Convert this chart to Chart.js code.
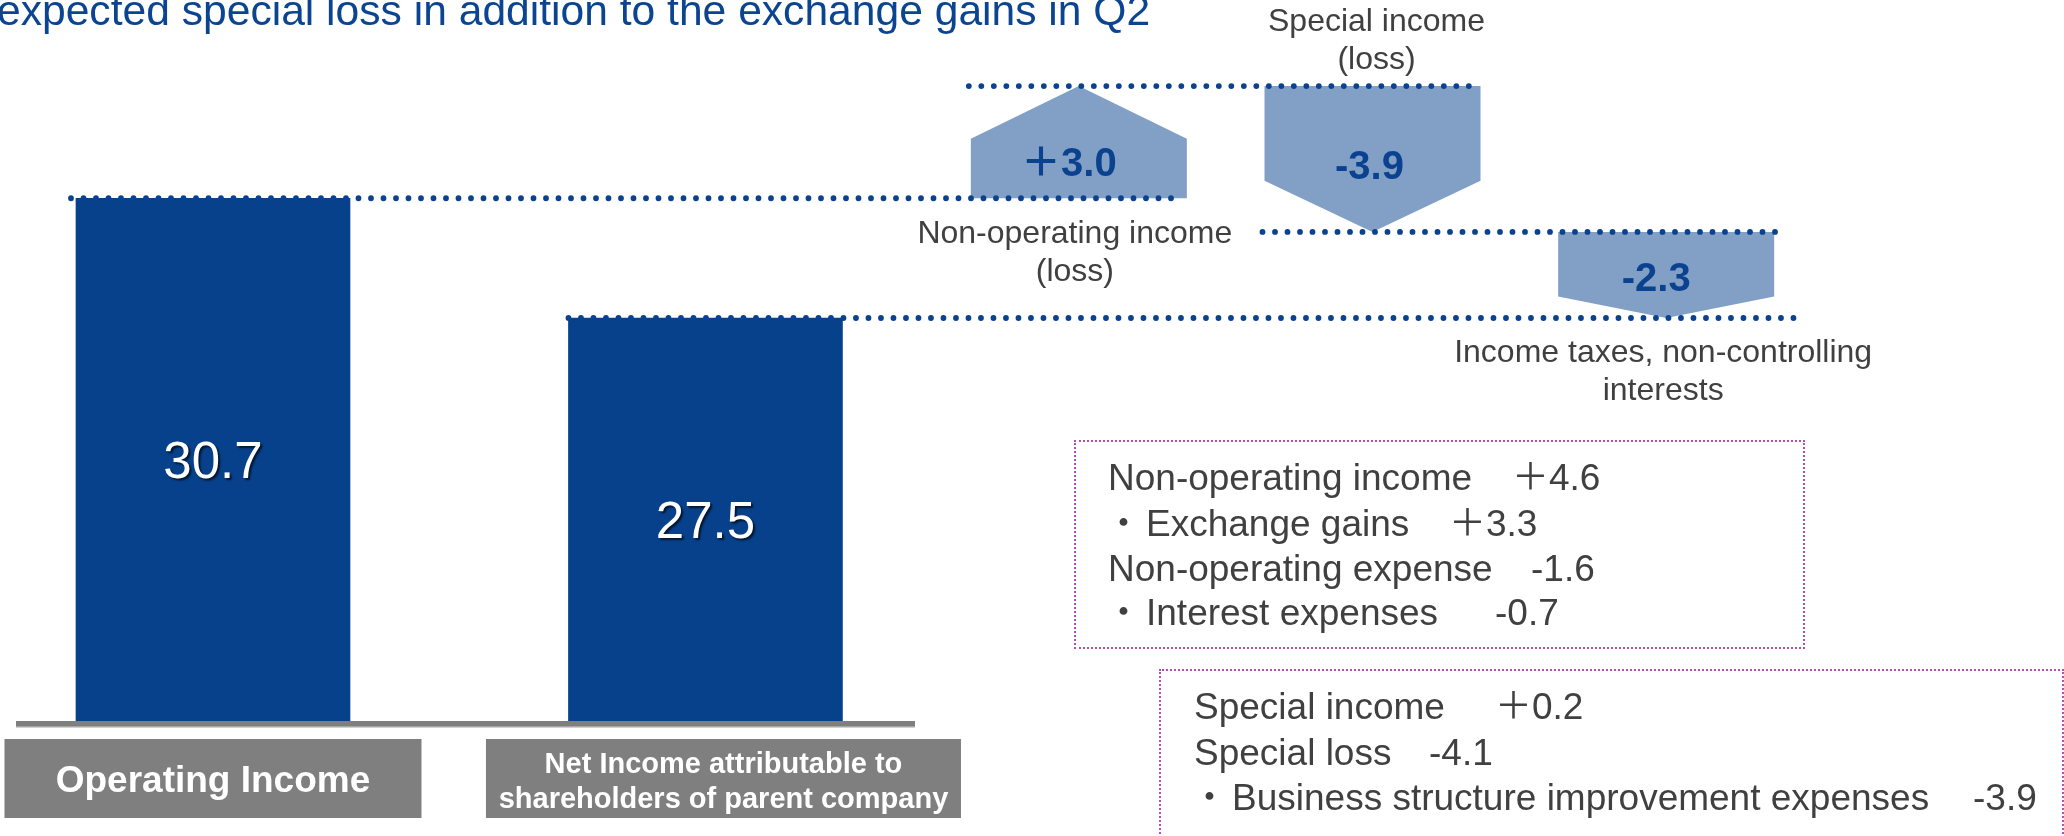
<!DOCTYPE html>
<html>
<head>
<meta charset="utf-8">
<title>Operating income to net income bridge</title>
<script src="https://cdn.jsdelivr.net/npm/chart.js@4.4.1/dist/chart.umd.min.js"></script>
<style>
  html, body { margin: 0; padding: 0; background: #ffffff; }
  #stage { position: relative; width: 2064px; height: 836px; overflow: hidden; background: #ffffff; }
  #chart { position: absolute; left: 0; top: 0; }
  .txt { position: absolute; font-family: "Liberation Sans", Arial, "Noto Sans CJK JP", sans-serif; white-space: pre; }
  #title { left: -3px; top: -11.5px; font-size: 42.6px; line-height: 43px; color: #0b4592; }
  .box { position: absolute; box-sizing: border-box; border: 2px dotted #b050b0; }
  .note { font-size: 37px; line-height: 37px; color: #404040; }
</style>
</head>
<body>
<div id="stage">
  <canvas id="chart" width="2064" height="836"></canvas>
  <div id="title" class="txt"></div>
  <div class="box" style="left:1074px;top:440px;width:731px;height:209px;"></div>
  <div class="box" style="left:1159px;top:669px;width:905px;height:220px;"></div>
  <div id="notes"></div>
</div>
<script>
// ---------------- data ----------------
const titleText = 'expected special loss in addition to the exchange gains in Q2';
const mainCategories = [['Operating Income'], ['Net Income attributable to', 'shareholders of parent company']];
const mainValues = [30.7, 27.5];
const stepCategories = [['Non-operating income', '(loss)'], ['Special income', '(loss)'], ['Income taxes, non-controlling', 'interests']];
const stepDeltas = [3.0, -3.9, -2.3];
const nonOpItems = ['Non-operating income', '・Exchange gains', 'Non-operating expense', '・Interest expenses'];
const nonOpValues = [4.6, 3.3, -1.6, -0.7];
const specialItems = ['Special income', 'Special loss', '・Business structure improvement expenses'];
const specialValues = [0.2, -4.1, -3.9];

// ---------------- derived ----------------
const levels = [mainValues[0]];
stepDeltas.forEach(d => levels.push(Math.round((levels[levels.length - 1] + d) * 10) / 10));
const stepRanges = stepDeltas.map((d, i) => [levels[i], levels[i + 1]]);
const fmt = v => (v > 0 ? '＋' : '') + v.toFixed(1);

// ---------------- styles ----------------
const FONT = '"Liberation Sans", Arial, "Noto Sans CJK JP", sans-serif';
const S = {
  main: '#07418b', step: '#829fc6', stepText: '#0a4290', dot: '#0a4290',
  gray: '#7f7f7f', dark: '#404040',
  headFrac: [0.47, 0.35, 0.25],
  valueFrac: [0.33, 0.54, 0.52],
  valueDx: [-10, -3, -10],
  connPad: [[-5, -4], [-2, -6], [-2, 10], [0, 22]],
  nameDx: [-4, 4, -3],
  catBox: { top: 17, height: 79, widths: [417, 475], dx: [0, 18], fonts: ['bold 37px ' + FONT, 'bold 29px ' + FONT], baselines: [[70], [51, 86]] },
  axisLine: { left: 16, right: 915 }
};

document.getElementById('title').textContent = titleText;

// notes (HTML text)
const notesEl = document.getElementById('notes');
function addNotes(items, values, textX, valueX, baselines) {
  items.forEach((t, i) => {
    const top = baselines[i] - 31.3;
    let label = t;
    if (t.startsWith('・')) {
      const b = document.createElement('div');
      b.className = 'txt note';
      b.textContent = '・';
      b.style.left = (textX[i] - 41) + 'px';
      b.style.top = top + 'px';
      notesEl.appendChild(b);
      label = t.slice(1);
    }
    const d = document.createElement('div');
    d.className = 'txt note';
    d.textContent = label;
    d.style.left = textX[i] + 'px';
    d.style.top = top + 'px';
    notesEl.appendChild(d);
    const v = document.createElement('div');
    v.className = 'txt note';
    const s = fmt(values[i]);
    v.textContent = s;
    v.style.left = (valueX[i] - (s.startsWith('＋') ? 5 : 1)) + 'px';
    v.style.top = top + 'px';
    notesEl.appendChild(v);
  });
}
addNotes(nonOpItems, nonOpValues, [1108, 1146, 1108, 1146], [1517, 1454, 1532, 1496], [490, 536, 581, 625]);
addNotes(specialItems, specialValues, [1194, 1194, 1232], [1500, 1430, 1974], [719, 765, 810]);

// ---------------- plugin ----------------
function dotted(ctx, x1, x2, y) {
  ctx.save();
  ctx.strokeStyle = S.dot;
  ctx.lineWidth = 5.8;
  ctx.lineCap = 'round';
  ctx.setLineDash([0, 12.5]);
  ctx.beginPath();
  ctx.moveTo(x1, y);
  ctx.lineTo(x2, y);
  ctx.stroke();
  ctx.restore();
}

const decor = {
  id: 'decor',
  afterDatasetsDraw(chart) {
    const ctx = chart.ctx;
    const yS = chart.scales.y;
    const area = chart.chartArea;
    const mainEls = chart.getDatasetMeta(0).data;
    const stepEls = chart.getDatasetMeta(1).data;

    // flat end (start) and pointed end (finish) of each step, from the bar element
    const ends = stepEls.map((el, i) => {
      const up = stepDeltas[i] > 0;
      return { start: up ? el.base : el.y, end: up ? el.y : el.base };
    });

    // step pentagons
    stepEls.forEach((el, i) => {
      const { start, end } = ends[i];
      const left = el.x - el.width / 2, right = el.x + el.width / 2;
      const dir = Math.sign(end - start);
      const head = Math.abs(end - start) * S.headFrac[i];
      const shoulder = end - dir * head;
      ctx.save();
      ctx.fillStyle = S.step;
      ctx.beginPath();
      ctx.moveTo(left, start);
      ctx.lineTo(right, start);
      ctx.lineTo(right, shoulder);
      ctx.lineTo(el.x, end);
      ctx.lineTo(left, shoulder);
      ctx.closePath();
      ctx.fill();
      ctx.restore();
    });

    // axis line
    ctx.save();
    ctx.fillStyle = S.gray;
    ctx.fillRect(S.axisLine.left, area.bottom - 1, S.axisLine.right - S.axisLine.left, 5);
    ctx.fillStyle = '#a6a6a6';
    ctx.fillRect(S.axisLine.left, area.bottom + 4, S.axisLine.right - S.axisLine.left, 1.5);
    ctx.restore();

    // connectors
    const leftEls = [mainEls[0], stepEls[0], stepEls[1], mainEls[1]];
    const rightEls = [stepEls[0], stepEls[1], stepEls[2], stepEls[2]];
    levels.forEach((lv, i) => {
      const y = yS.getPixelForValue(lv);
      const x1 = leftEls[i].x - leftEls[i].width / 2 + S.connPad[i][0];
      const x2 = rightEls[i].x + rightEls[i].width / 2 + S.connPad[i][1];
      dotted(ctx, x1, x2, y);
    });

    // step value labels
    stepEls.forEach((el, i) => {
      const { start, end } = ends[i];
      ctx.save();
      ctx.font = 'bold 40px ' + FONT;
      ctx.fillStyle = S.stepText;
      ctx.textAlign = 'center';
      ctx.textBaseline = 'alphabetic';
      const cy = start + (end - start) * S.valueFrac[i];
      ctx.fillText(fmt(stepDeltas[i]), el.x + S.valueDx[i], cy + 14.3);
      ctx.restore();
    });

    // step category names
    stepEls.forEach((el, i) => {
      const { start, end } = ends[i];
      ctx.save();
      ctx.font = '32px ' + FONT;
      ctx.fillStyle = S.dark;
      ctx.textAlign = 'center';
      let base;
      if (i === 0) base = [start + 45, start + 83];
      else if (i === 1) base = [start - 55, start - 17];
      else base = [end + 44, end + 82];
      stepCategories[i].forEach((t, k) => ctx.fillText(t, el.x + S.nameDx[i], base[k]));
      ctx.restore();
    });

    // main bar values
    mainEls.forEach((el, i) => {
      ctx.save();
      ctx.font = '51px ' + FONT;
      ctx.fillStyle = '#ffffff';
      ctx.textAlign = 'center';
      ctx.shadowColor = 'rgba(0,0,0,0.65)';
      ctx.shadowOffsetX = 2;
      ctx.shadowOffsetY = 2;
      ctx.shadowBlur = 2;
      const bottom = Math.min(el.base, area.bottom);
      const mid = (el.y + bottom) / 2;
      ctx.fillText(mainValues[i].toFixed(1), el.x, mid + 18);
      ctx.restore();
    });

    // category label boxes
    const cb = S.catBox;
    mainEls.forEach((el, i) => {
      const cx = el.x + cb.dx[i];
      const w = cb.widths[i];
      ctx.save();
      ctx.fillStyle = S.gray;
      ctx.fillRect(cx - w / 2, area.bottom + cb.top, w, cb.height);
      ctx.fillStyle = '#ffffff';
      ctx.font = cb.fonts[i];
      ctx.textAlign = 'center';
      mainCategories[i].forEach((t, k) => ctx.fillText(t, cx, area.bottom + cb.baselines[i][k]));
      ctx.restore();
    });
  }
};

// ---------------- chart ----------------
Chart.defaults.font.family = FONT;
new Chart(document.getElementById('chart'), {
  type: 'bar',
  data: {
    datasets: [
      {
        label: 'Result',
        xAxisID: 'xMain', yAxisID: 'y',
        data: mainValues.map((v, i) => ({ x: i, y: v })),
        backgroundColor: S.main,
        barThickness: 274,
        grouped: false
      },
      {
        label: 'Change',
        xAxisID: 'xStep', yAxisID: 'y',
        data: stepRanges,
        backgroundColor: 'rgba(0,0,0,0)',
        barThickness: 216,
        grouped: false
      }
    ]
  },
  options: {
    responsive: false,
    animation: false,
    devicePixelRatio: 1,
    layout: { padding: { left: 0, right: 251, top: 0, bottom: 114 } },
    plugins: { legend: { display: false }, tooltip: { enabled: false } },
    scales: {
      xMain: { type: 'linear', position: 'bottom', stack: 'x', stackWeight: 932, offset: false, min: -0.4325, max: 1.46, display: false },
      xStep: { type: 'category', position: 'bottom', stack: 'x', stackWeight: 881, offset: true, labels: stepCategories.map(l => l.join(' ')), display: false },
      y: { type: 'linear', beginAtZero: false, min: 16.7, max: 36.0, display: false }
    }
  },
  plugins: [decor]
});
</script>
</body>
</html>
